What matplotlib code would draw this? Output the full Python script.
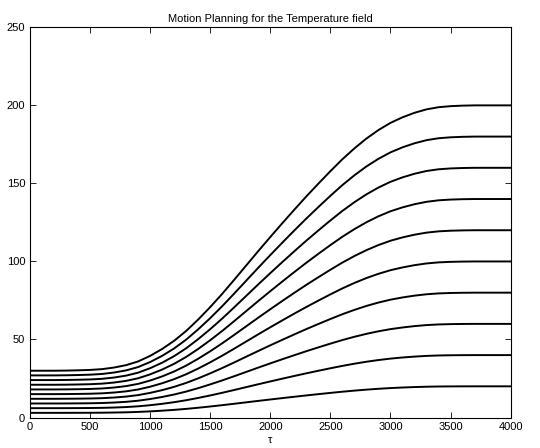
import numpy as np
import matplotlib
matplotlib.use('Agg')
import matplotlib.pyplot as plt

# time grid and normalised transition profile
tau = list(range(0, 4001, 100))
profile = [0.0, 0.0, 0.0, 0.0005, 0.0015, 0.003,
           0.006, 0.012, 0.021, 0.035, 0.056, 0.082, 0.113, 0.15, 0.193, 0.24,
           0.29, 0.343, 0.397, 0.451, 0.504, 0.556, 0.607, 0.657, 0.705, 0.752,
           0.797, 0.838, 0.875, 0.907, 0.934, 0.955, 0.972, 0.985, 0.993, 0.997,
           0.999, 1.0, 1.0, 1.0, 1.0]

start_values = [3, 6, 9, 12, 15, 18, 21, 24, 27, 30]
end_values = [20, 40, 60, 80, 100, 120, 140, 160, 180, 200]

plt.rcParams['font.family'] = ['Liberation Sans', 'DejaVu Sans']

fig = plt.figure(figsize=(5.4, 4.48), dpi=100)
ax = fig.add_axes([0.0556, 0.068, 0.89, 0.871])

t = np.array(tau)
p = np.array(profile)
for y0, y1 in zip(start_values, end_values):
    ax.plot(t, y0 + (y1 - y0) * p, color='black', linewidth=1.4)

ax.set_xlim(0, 4000)
ax.set_ylim(0, 250)
ax.set_xticks(range(0, 4001, 500))
ax.set_yticks(range(0, 251, 50))
ax.tick_params(direction='in', top=True, right=True, labelsize=8, length=4, width=0.6)
for s in ax.spines.values():
    s.set_linewidth(0.8)
ax.set_title('Motion Planning for the Temperature field', fontsize=8, pad=4)
ax.set_xlabel('τ', fontsize=8, labelpad=2)

plt.savefig('out.png', dpi=100)
